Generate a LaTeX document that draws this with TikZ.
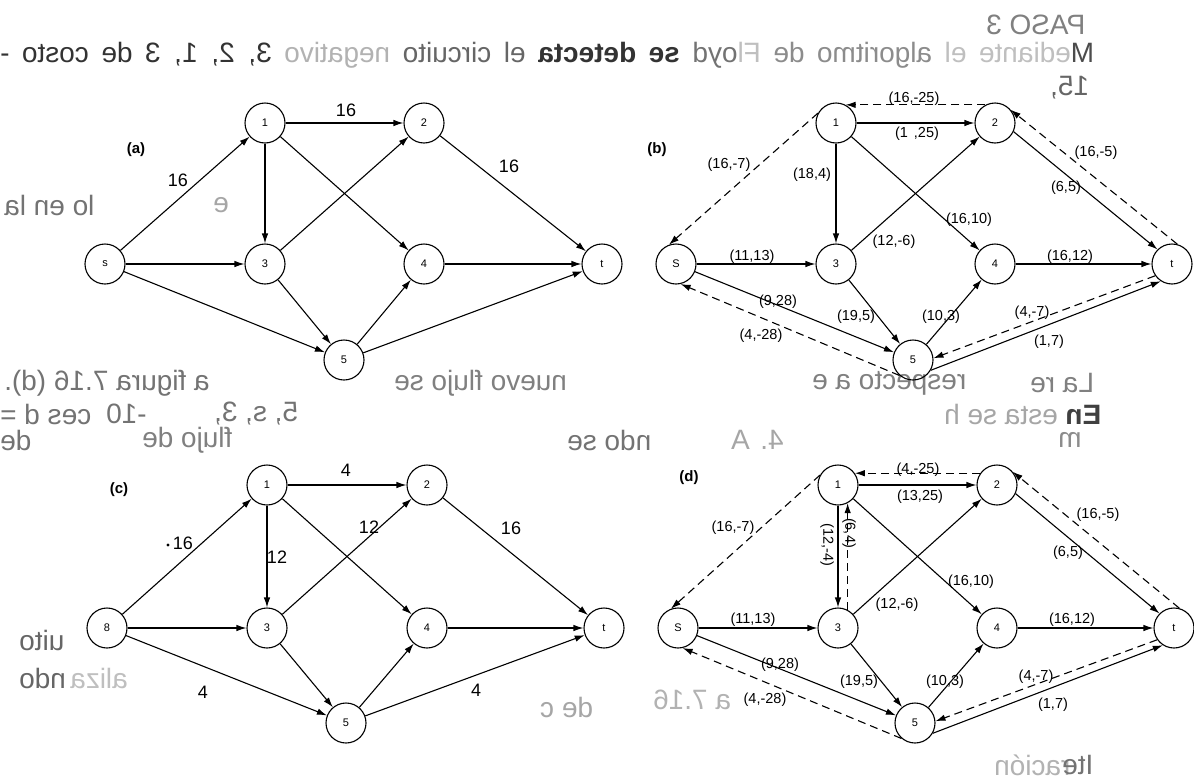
\documentclass[tikz,border=0pt]{standalone}
\usepackage{fontspec}
\setmainfont{Liberation Sans}
\usetikzlibrary{arrows.meta}
\begin{document}
\begin{tikzpicture}[x=1pt,y=-1pt,
 nd/.style={circle,draw,line width=1.1pt,minimum size=40pt,inner sep=0pt,font=\fontsize{11}{11}\selectfont},
 ed/.style={line width=1.1pt,-{Latex[length=10pt,width=6.5pt]}},
 dd/.style={ed,dash pattern=on 8pt off 5pt},
 lb/.style={inner sep=0pt,font=\fontsize{14.5}{14.5}\selectfont},
 bg/.style={inner sep=0pt,font=\fontsize{18}{18}\selectfont},
 tg/.style={inner sep=0pt,font=\bfseries\fontsize{15}{15}\selectfont},
 bl/.style={inner sep=0pt,anchor=east,xscale=-1,transform shape,font=\fontsize{28}{28}\selectfont},
]
\useasboundingbox[fill=white] (0,0) rectangle (1194,782);

% ---------- show-through text (mirrored; anchor point = visual left end) ----------
\node[bl,text=black!50] (k1) at (986,25) {PASO 3};
\node[bl] (k2) at (0,55) {\makebox[1094pt][s]{{\color{black!70}M}{\color{black!25}ediante el} {\color{black!45}algoritmo de} {\color{black!25}Fl}{\color{black!55}oyd} {\color{black!80}\bfseries se detecta} {\color{black!60}el circuito} {\color{black!30}negativo} {\color{black!80}3, 2, 1, 3 de costo -}}};
\node[bl,text=black!60] (k3) at (1050,88) {15,};
\node[bl,text=black!55] (k4) at (4,205) {lo en la};
\node[bl,text=black!35] (k5) at (213,205) {e};
\node[bl,text=black!55] (k6) at (4,383) {a figura 7.16 (d).};
\node[bl,text=black!50] (k7) at (394,383) {nuevo flujo se};
\node[bl,text=black!50] (k8) at (812,383) {respecto a e};
\node[bl,text=black!50] (k9) at (1030,383) {La re};
\node[bl,text=black!55] (k10) at (0,414) {ces d =};
\node[bl,text=black!55] (k11) at (106,414) {-10};
\node[bl,text=black!55] (k12) at (214,414) {5, s, 3,};
\node[bl] (k13) at (944,414) {{\color{black!75}\bfseries En} {\color{black!35}esta se h}};
\node[bl,text=black!55] (k14) at (0,440) {de};
\node[bl,text=black!50] (k15) at (142,440) {flujo de};
\node[bl,text=black!55] (k16) at (567,440) {ndo se};
\node[bl,text=black!35] (k17) at (731,440) {4. A};
\node[bl,text=black!45] (k18) at (1058,440) {m};
\node[bl,text=black!60] (k19) at (19,640) {uito};
\node[bl,text=black!60] (k20) at (19,678) {ndo};
\node[bl,text=black!25] (k21) at (70,678) {aliza};
\node[bl,text=black!35] (k22) at (540,707) {de c};
\node[bl,text=black!30] (k23) at (653,700) {a 7.16};
\node[bl,text=black!30] (k24) at (994,765) {ración};
\node[bl,text=black!55] (k25) at (1062,765) {Ite};

% ---------- (a) ----------
\node[nd] (aS) at (105,264) {s};
\node[nd] (a1) at (265,123) {1};
\node[nd] (a2) at (424,123) {2};
\node[nd] (a3) at (265,264) {3};
\node[nd] (a4) at (424,264) {4};
\node[nd] (a5) at (344,360) {5};
\node[nd] (aT) at (602,264) {t};
\draw[ed] (aS) -- (a1);
\draw[ed] (aS) -- (a3);
\draw[ed] (aS) -- (a5);
\draw[ed] (a1) -- (a2);
\draw[ed] (a1) -- (a3);
\draw[ed] (a1) -- (a4);
\draw[ed] (a2) -- (aT);
\draw[ed] (a3) -- (a2);
\draw[ed] (a3) -- (a5);
\draw[ed] (a4) -- (aT);
\draw[ed] (a5) -- (a4);
\draw[ed] (a5) -- (aT);
\node[tg] (ta) at (136,150) {(a)};
\node[bg] (la1) at (346,110) {16};
\node[bg] (la2) at (178,180) {16};
\node[bg] (la3) at (509,166) {16};

% ---------- (b) ----------
\node[nd] (bS) at (676,264) {S};
\node[nd] (b1) at (836,123) {1};
\node[nd] (b2) at (995,123) {2};
\node[nd] (b3) at (836,264) {3};
\node[nd] (b4) at (995,264) {4};
\node[nd] (b5) at (913,360) {5};
\node[nd] (bT) at (1172,264) {t};
\draw[ed] (b1) -- (b2);
\draw[ed] (b1) -- (b3);
\draw[ed] (b1) -- (b4);
\draw[ed] (b3) -- (b2);
\draw[ed] (b2.-25) -- (bT.135);
\draw[ed] (bS) -- (b3);
\draw[ed] (b4) -- (bT);
\draw[ed] (bS) -- (b5);
\draw[ed] (b3) -- (b5);
\draw[ed] (b5) -- (b4);
\draw[ed] (b5.-30) -- (bT.237);
\draw[dd] (b2.118) -- (b1.62);
\draw[dd] (b1.151) -- (bS.110);
\draw[dd] (bT.75) -- (b2.40);
\draw[dd] (b5.229) -- (bS.-77);
\draw[dd] (bT.215) -- (b5.5);
\node[tg] (tb) at (657,150) {(b)};
\node[lb] (lb1) at (914,99) {(16,-25)};
\node[lb] (lb2) at (917,134) {(1\hspace{6pt},25)};
\node[lb] (lb3) at (729,165) {(16,-7)};
\node[lb] (lb4) at (812,175) {(18,4)};
\node[lb] (lb5) at (1096,153) {(16,-5)};
\node[lb] (lb6) at (1066,188) {(6,5)};
\node[lb] (lb7) at (969,220) {(16,10)};
\node[lb] (lb8) at (894,242) {(12,-6)};
\node[lb] (lb9) at (752,257) {(11,13)};
\node[lb] (lb10) at (1070,257) {(16,12)};
\node[lb] (lb11) at (778,302) {(9,28)};
\node[lb] (lb12) at (761,336) {(4,-28)};
\node[lb] (lb13) at (856,317) {(19,5)};
\node[lb] (lb14) at (941,317) {(10,3)};
\node[lb] (lb15) at (1032,313) {(4,-7)};
\node[lb] (lb16) at (1049,342) {(1,7)};

% ---------- (c) ----------
\node[nd] (cS) at (107,628) {8};
\node[nd] (c1) at (267,485) {1};
\node[nd] (c2) at (427,485) {2};
\node[nd] (c3) at (267,628) {3};
\node[nd] (c4) at (427,628) {4};
\node[nd] (c5) at (346,723) {5};
\node[nd] (cT) at (604,628) {t};
\draw[ed] (cS) -- (c1);
\draw[ed] (cS) -- (c3);
\draw[ed] (cS) -- (c5);
\draw[ed] (c1) -- (c2);
\draw[ed] (c1) -- (c3);
\draw[ed] (c1) -- (c4);
\draw[ed] (c2) -- (cT);
\draw[ed] (c3) -- (c2);
\draw[ed] (c3) -- (c5);
\draw[ed] (c4) -- (cT);
\draw[ed] (c5) -- (c4);
\draw[ed] (c5) -- (cT);
\node[tg] (tc) at (119,490) {(c)};
\node[bg] (lc1) at (346,470) {4};
\fill (168,545) circle (1.6pt) coordinate (cdot);
\node[bg] (lc2) at (183,543) {16};
\node[bg] (lc3) at (277,557) {12};
\node[bg] (lc4) at (369,527) {12};
\node[bg] (lc5) at (511,528) {16};
\node[bg] (lc6) at (203,692) {4};
\node[bg] (lc7) at (476,690) {4};

% ---------- (d) ----------
\node[nd] (dS) at (678,628) {S};
\node[nd] (d1) at (838,485) {1};
\node[nd] (d2) at (997,485) {2};
\node[nd] (d3) at (838,628) {3};
\node[nd] (d4) at (997,628) {4};
\node[nd] (d5) at (915,723) {5};
\node[nd] (dT) at (1174,628) {t};
\draw[ed] (d1) -- (d2);
\draw[ed] (d1) -- (d3);
\draw[ed] (d1) -- (d4);
\draw[ed] (d3) -- (d2);
\draw[ed] (d2.-25) -- (dT.135);
\draw[ed] (dS) -- (d3);
\draw[ed] (d4) -- (dT);
\draw[ed] (dS) -- (d5);
\draw[ed] (d3) -- (d5);
\draw[ed] (d5) -- (d4);
\draw[ed] (d5.-30) -- (dT.237);
\draw[dd] (d2.145) -- (d1.35);
\draw[dd] (d1.151) -- (dS.110);
\draw[dd] (dT.75) -- (d2.40);
\draw[dd] (d5.229) -- (dS.-77);
\draw[dd] (dT.215) -- (d5.5);
\draw[dd] (d3.62) -- (d1.-62);
\node[tg] (td) at (689,478) {(d)};
\node[lb] (ld1) at (918,470) {(4,-25)};
\node[lb] (ld2) at (920,497) {(13,25)};
\node[lb] (ld3) at (733,528) {(16,-7)};
\node[lb,rotate=-90] (ld4) at (827,545) {(12,-4)};
\node[lb,rotate=-90] (ld5) at (849,533) {(6,4)};
\node[lb] (ld6) at (1098,515) {(16,-5)};
\node[lb] (ld7) at (1068,553) {(6,5)};
\node[lb] (ld8) at (971,582) {(16,10)};
\node[lb] (ld9) at (897,605) {(12,-6)};
\node[lb] (ld10) at (753,620) {(11,13)};
\node[lb] (ld11) at (1072,620) {(16,12)};
\node[lb] (ld12) at (780,665) {(9,28)};
\node[lb] (ld13) at (765,700) {(4,-28)};
\node[lb] (ld14) at (859,682) {(19,5)};
\node[lb] (ld15) at (945,682) {(10,3)};
\node[lb] (ld16) at (1036,677) {(4,-7)};
\node[lb] (ld17) at (1053,705) {(1,7)};
\end{tikzpicture}
\end{document}
